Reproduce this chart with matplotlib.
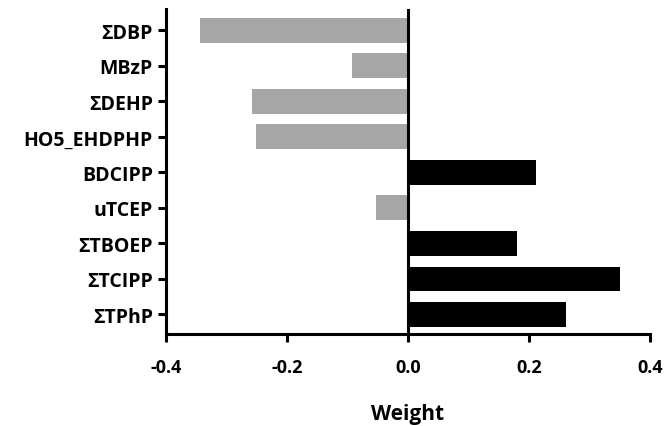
import numpy as np
import matplotlib.pyplot as plt

plt.rcParams['font.family'] = ['Open Sans', 'DejaVu Sans']
plt.rcParams['font.weight'] = 'bold'

# categories from bottom to top
labels = ['ΣTPhP', 'ΣTCIPP', 'ΣTBOEP', 'uTCEP', 'BDCIPP',
          'HO5_EHDPHP', 'ΣDEHP', 'MBzP', 'ΣDBP']
weights = [0.261, 0.350, 0.180, -0.053, 0.211,
           -0.251, -0.258, -0.093, -0.344]

fig = plt.figure(figsize=(6.67, 4.27), dpi=100)
ax = fig.add_axes([0.249, 0.2155, 0.7255, 0.761])

y = np.arange(len(labels))
colors = ['black' if w > 0 else '#a6a6a6' for w in weights]
ax.barh(y, weights, height=0.7, color=colors)
ax.axvline(0, color='black', lw=2.2)

ax.set_xlim(-0.4, 0.4)
ax.set_ylim(-0.55, 8.6)
ax.set_xticks([-0.4, -0.2, 0.0, 0.2, 0.4])
ax.set_xticklabels(['-0.4', '-0.2', '0.0', '0.2', '0.4'])
ax.set_yticks(y)
ax.set_yticklabels(labels, fontsize=14)

for s in ['top', 'right']:
    ax.spines[s].set_visible(False)
for s in ['left', 'bottom']:
    ax.spines[s].set_linewidth(2.2)
ax.tick_params(axis='both', width=2.2, length=6)
ax.tick_params(axis='x', pad=11, labelsize=13)
ax.set_xlabel('Weight', fontsize=15, fontweight='bold', labelpad=20)

fig.savefig('out.png', dpi=100)
